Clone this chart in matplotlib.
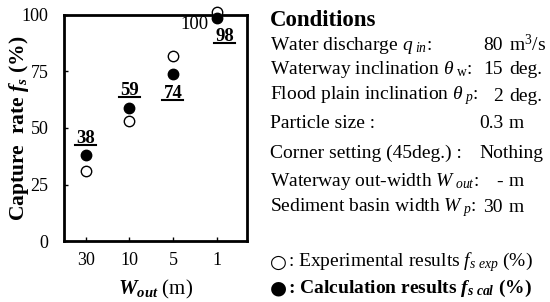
import matplotlib
matplotlib.use('Agg')
import matplotlib.pyplot as plt
from matplotlib.lines import Line2D
from matplotlib.transforms import IdentityTransform

# Datos
w_out = ['30', '10', '5', '1']
exp_fs = [31, 53, 82, 101.5]
cal_fs = [38, 59, 74, 98.5]
cal_labels = ['38', '59', '74', '98']

cond_names = [r'Water discharge $q_{\ in}$:',
              r'Waterway inclination $\theta_{\rm \ w}$:',
              r'Flood plain inclination $\theta_{\ p}$:',
              'Particle size :',
              'Corner setting (45deg.) :',
              r'Waterway out-width $W_{\ out}$:',
              r'Sediment basin width $W_{\ p}$:']
cond_values = ['80', '15', '2', '0.3', 'Nothing', '-', '30']
cond_units = [r'm$^3$/s', 'deg.', 'deg.', 'm', '', 'm', 'm']

plt.rcParams['font.family'] = ['Liberation Serif', 'DejaVu Sans']
plt.rcParams['mathtext.fontset'] = 'custom'
plt.rcParams['mathtext.rm'] = 'Liberation Serif'
plt.rcParams['mathtext.it'] = 'Liberation Serif:italic'
plt.rcParams['mathtext.bf'] = 'Liberation Serif:bold'
plt.rcParams['mathtext.bfit'] = 'Liberation Serif:bold:italic'

W, H = 550, 302
fig = plt.figure(figsize=(W / 100, H / 100), dpi=100)
ax = fig.add_axes([64 / W, 1 - 241 / H, 183 / W, 226 / H])

x = list(range(len(w_out)))
ax.plot(x, exp_fs, 'o', ms=7.5, mfc='white', mec='black', mew=1.0, clip_on=False, zorder=3)
ax.plot(x, cal_fs, 'o', ms=7.5, mfc='black', mec='black', clip_on=False, zorder=4)

ax.set_xlim(-0.5, 3.7)
ax.set_ylim(0, 100)
ax.set_yticks([0, 25, 50, 75, 100])
ax.set_xticks(x)
ax.set_xticklabels(w_out)
ax.tick_params(direction='in', length=3, width=1, labelsize=13)
ax.tick_params(axis='y', pad=11)
ax.tick_params(axis='x', pad=8)
for s in ax.spines.values():
    s.set_linewidth(2)

ax.set_ylabel(r'Capture  rate $\mathbfit{f_s}$ (%)', fontsize=15.5, fontweight='bold')
ax.yaxis.set_label_coords(-0.18, 0.5)
ax.set_xlabel(r'$\mathbfit{W_{out}}$ (m)', fontsize=15, va='top')
ax.xaxis.set_label_coords(0.5, -0.165)

# etiquetas de valores calculados
offsets = [(0, 12), (0, 12), (0, -14), (6, -13)]
labels = []
for xi, yi, lab, off in zip(x, cal_fs, cal_labels, offsets):
    t = ax.annotate(lab, (xi, yi), xytext=off, textcoords='offset points',
                    ha='center', va='center', fontsize=13.5, fontweight='bold')
    labels.append(t)
ax.annotate('100', (x[-1], exp_fs[-1]), xytext=(-16, -9.5), textcoords='offset points',
            ha='center', va='center', fontsize=13.5, annotation_clip=False)

# Panel de condiciones
fig.text(270 / W, 1 - 20 / H, 'Conditions', fontsize=16.5, fontweight='bold', va='center')
row_y = [45, 70, 96, 124, 153, 182, 208]
for name, val, unit, yy in zip(cond_names, cond_values, cond_units, row_y):
    fy = 1 - yy / H
    fig.text(270 / W, fy, name, fontsize=14, va='center')
    if unit:
        fig.text(503 / W, fy, val, fontsize=14, va='center', ha='right')
        fig.text(509 / W, fy, unit, fontsize=14, va='center')
    else:
        fig.text(543 / W, fy, val, fontsize=14, va='center', ha='right')

# leyenda en texto
fig.text(270 / W, 1 - 262 / H, '\u25cb', fontsize=14, va='center', family='DejaVu Sans')
fig.text(288 / W, 1 - 262 / H, ': Experimental results $f_{s\\ exp}$ (%)',
         fontsize=14, va='center')
fig.text(270 / W, 1 - 288 / H, '\u25cf', fontsize=14, va='center', family='DejaVu Sans')
fig.text(288 / W, 1 - 288 / H, ': Calculation results $\\mathbfit{f_{s\\ cal}}$ (%)',
         fontsize=14, va='center', fontweight='bold')

# subrayado de las etiquetas
fig.canvas.draw()
r = fig.canvas.get_renderer()
for t in labels:
    bb = t.get_window_extent(r)
    fig.add_artist(Line2D([bb.x0 - 1, bb.x1 + 1], [bb.y0 + 2, bb.y0 + 2],
                          transform=IdentityTransform(), color='black', lw=1.5))

fig.savefig('out.png', dpi=100)
plt.close(fig)
